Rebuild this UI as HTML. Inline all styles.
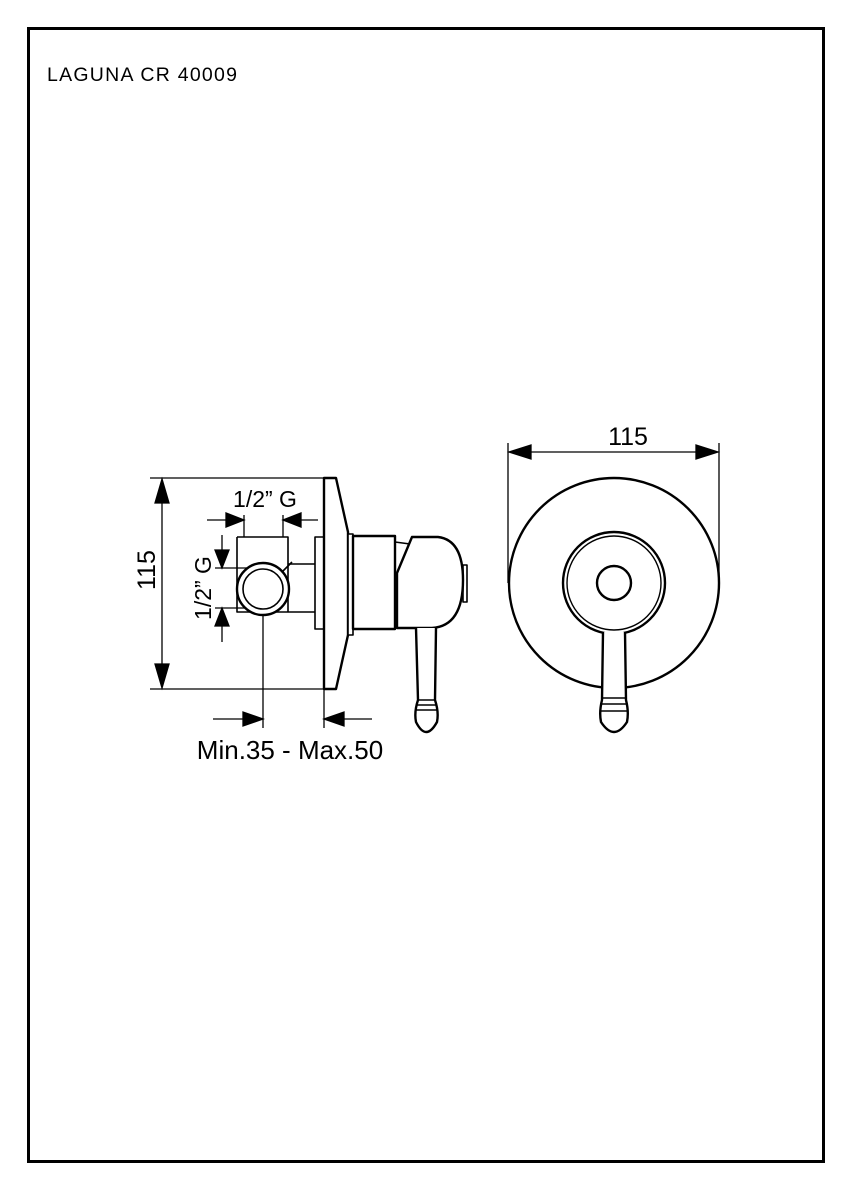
<!DOCTYPE html>
<html><head><meta charset="utf-8"><style>
html,body{margin:0;padding:0;background:#fff;}
svg{display:block;}
text{font-family:"Liberation Sans",sans-serif;fill:#000;}
</style></head><body>
<svg width="850" height="1190" viewBox="0 0 850 1190" xmlns="http://www.w3.org/2000/svg">
<rect x="28.5" y="28.5" width="795" height="1133" fill="none" stroke="#000" stroke-width="3"/>
<text x="47" y="81" font-size="19.5" textLength="190" lengthAdjust="spacing">LAGUNA CR 40009</text>

<g stroke="#000" fill="none" stroke-width="1.3">
<line x1="150" y1="478" x2="324" y2="478"/>
<line x1="150" y1="689" x2="324" y2="689"/>
</g>
<g stroke="#000" stroke-width="1.3" fill="#000">
<line x1="162" y1="500" x2="162" y2="667"/>
<path d="M162,479 L155,503 L169,503 Z"/>
<path d="M162,688 L155,664 L169,664 Z"/>
<line x1="244" y1="537" x2="244" y2="515" fill="none"/>
<line x1="283" y1="537" x2="283" y2="515" fill="none"/>
<line x1="207" y1="520" x2="230" y2="520"/>
<path d="M244,520 L226,513 L226,527 Z"/>
<line x1="297" y1="520" x2="318" y2="520"/>
<path d="M283,520 L301,513 L301,527 Z"/>
<line x1="215" y1="568" x2="263" y2="568"/>
<line x1="215" y1="608" x2="263" y2="608"/>
<line x1="222" y1="535" x2="222" y2="555"/>
<path d="M222,568 L215,550 L229,550 Z"/>
<line x1="222" y1="622" x2="222" y2="642"/>
<path d="M222,608 L215,626 L229,626 Z"/>
<line x1="263" y1="589" x2="263" y2="728"/>
<line x1="324" y1="689" x2="324" y2="728"/>
<line x1="213" y1="719" x2="248" y2="719"/>
<path d="M263,719 L243,712 L243,726 Z"/>
<line x1="340" y1="719" x2="372" y2="719"/>
<path d="M324,719 L344,712 L344,726 Z"/>
</g>
<text x="147" y="570" font-size="25" text-anchor="middle" transform="rotate(-90 147 570)" dy="8">115</text>
<text x="265" y="507" font-size="23" text-anchor="middle">1/2” G</text>
<text x="203" y="588" font-size="23" text-anchor="middle" transform="rotate(-90 203 588)" dy="8">1/2” G</text>
<text x="290" y="759" font-size="26" text-anchor="middle">Min.35 - Max.50</text>

<g stroke="#000" fill="#fff" stroke-width="2.4" stroke-linejoin="round">
<path d="M237,537 L288,537 L288,564 L315,564 M288,564 L288,612 L315,612 M237,537 L237,612 L288,612" fill="none" stroke-width="1.6"/>
<line x1="280" y1="574" x2="292" y2="562" stroke-width="1.6"/>
<circle cx="263" cy="589" r="26"/>
<circle cx="263" cy="589" r="20" stroke-width="1.6"/>
<rect x="315" y="537" width="9" height="92" stroke-width="1.6"/>
<path d="M324,478 L336,478 L348,532 L348,635 L336,689 L324,689 Z"/>
<rect x="348" y="534" width="5" height="101" stroke-width="1.6"/>
<rect x="353" y="536" width="42" height="93"/>
<rect x="463" y="565" width="4" height="37" stroke-width="1.6"/>
<path d="M412,537 L438,537 Q463,540 463,580 Q463,626 432,628 L397,628 L397,573 Z"/>
<path d="M395,542 L410,544" fill="none" stroke-width="1.6"/>
<path d="M416,628 L418,700 Q414,712 416,722 Q426,742 437,722 Q439,712 435,700 L436,628" fill="#fff"/>
<line x1="417" y1="700" x2="436" y2="700" stroke-width="1.6"/>
<line x1="416" y1="705" x2="437" y2="705" stroke-width="1.6"/>
<line x1="416" y1="710" x2="437" y2="710" stroke-width="1.6"/>
</g>

<g stroke="#000" stroke-width="1.3" fill="#000">
<line x1="508" y1="443" x2="508" y2="583"/>
<line x1="719" y1="443" x2="719" y2="583"/>
<line x1="525" y1="452" x2="702" y2="452"/>
<path d="M509,452 L531,445 L531,459 Z"/>
<path d="M718,452 L696,445 L696,459 Z"/>
</g>
<text x="628" y="445" font-size="25" text-anchor="middle">115</text>
<g stroke="#000" fill="#fff" stroke-width="2.4">
<circle cx="614" cy="583" r="105"/>
<circle cx="614" cy="583" r="51"/>
<circle cx="614" cy="583" r="47" stroke-width="1.4"/>
<circle cx="614" cy="583" r="17"/>
<path d="M603,632 L602,700 Q599,712 601,722 Q614,742 627,722 Q629,712 626,700 L625,632" fill="#fff"/>
<line x1="602" y1="698" x2="626" y2="698" stroke-width="1.6"/>
<line x1="601" y1="704" x2="627" y2="704" stroke-width="1.6"/>
<line x1="601" y1="711" x2="627" y2="711" stroke-width="1.6"/>
</g>
</svg>
</body></html>
